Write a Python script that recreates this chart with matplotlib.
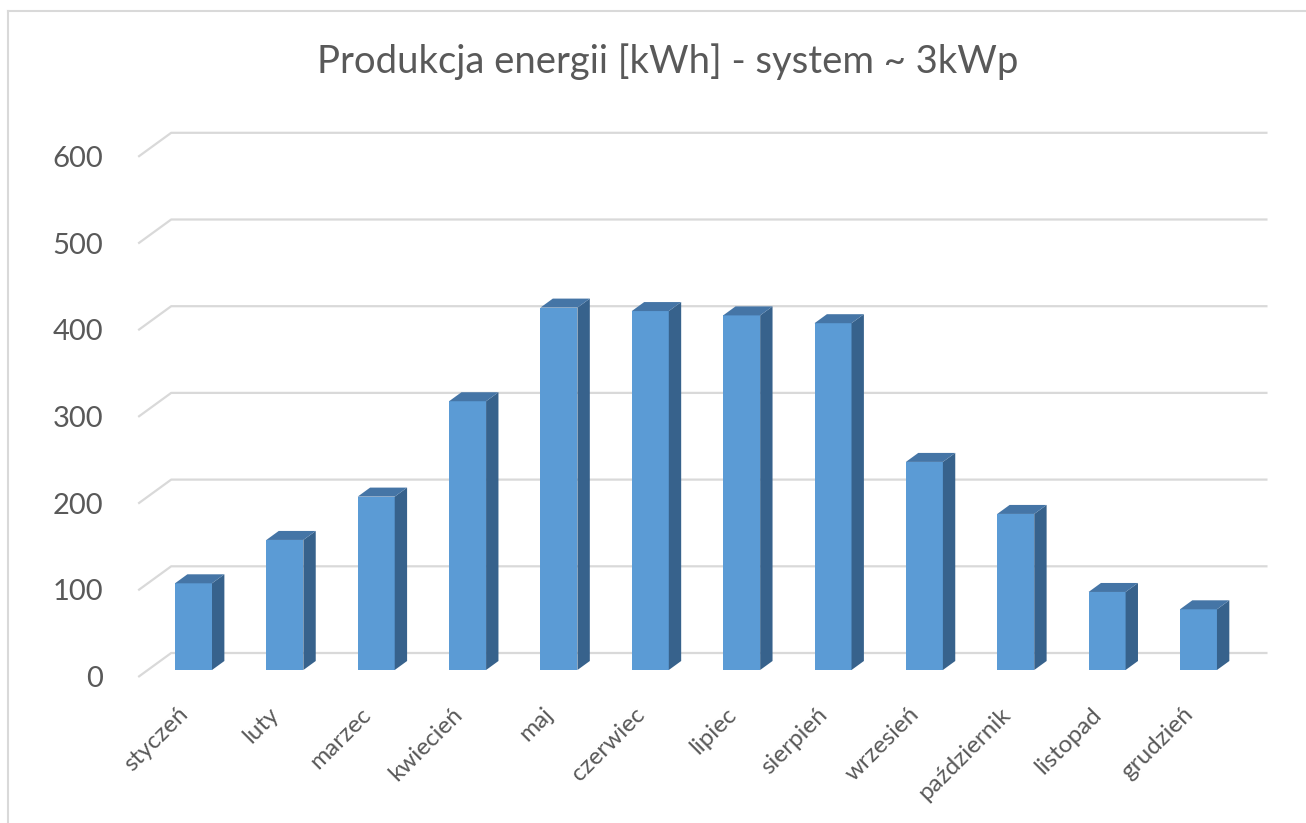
import matplotlib
matplotlib.use('Agg')
import matplotlib.pyplot as plt
from matplotlib.patches import Polygon
from matplotlib.lines import Line2D

plt.rcParams['font.family'] = ['Lato', 'DejaVu Sans']

# data
months = ['styczeń', 'luty', 'marzec', 'kwiecień', 'maj', 'czerwiec',
          'lipiec', 'sierpień', 'wrzesień', 'październik', 'listopad', 'grudzień']
energy_kwh = [100, 150, 200, 310, 418, 414, 409, 400, 240, 180, 90, 70]
y_ticks = [0, 100, 200, 300, 400, 500, 600]
title = 'Produkcja energii [kWh] - system ~ 3kWp'

# colours (Excel 2013 style)
front_col = '#5B9BD5'
top_col = '#4575A6'
side_col = '#37628C'
grid_col = '#D9D9D9'
text_col = '#595959'

# layout in pixels
W_PX, H_PX = 1306, 823
X0, PX_CAT = 193.5, 91.36      # pixel of category 0 centre, px per category
Y0, PX_VAL = 670.0, 0.867      # pixel of value 0 (bar front), px per kWh
L, R, T, B = 130, 1280, 120, 690

fig = plt.figure(figsize=(W_PX / 100, H_PX / 100), dpi=100)
ax = fig.add_axes([L / W_PX, 1 - B / H_PX, (R - L) / W_PX, (B - T) / H_PX])
ax.set_xlim((L - X0) / PX_CAT, (R - X0) / PX_CAT)
ax.set_ylim((Y0 - B) / PX_VAL, (Y0 - T) / PX_VAL)
ax.axis('off')

# fake 3D depth: full wall depth shifts (+33px, -24px)
DX = 33 / PX_CAT
DY = 24 / PX_VAL
d_wall_front = -7 / 24
d_wall_back = 17 / 24
d_bar = 9 / 24
bar_w = 0.405
n = len(months)

# back-wall / side-wall gridlines
for v in y_ticks:
    xs = [-0.5 + d_wall_front * DX, -0.5 + d_wall_back * DX, n - 0.5 + d_wall_back * DX]
    ys = [v + d_wall_front * DY, v + d_wall_back * DY, v + d_wall_back * DY]
    ax.plot(xs, ys, color=grid_col, lw=1.6, zorder=1, solid_capstyle='butt')
    ax.text(-0.5 + d_wall_front * DX - 35 / PX_CAT, v + d_wall_front * DY - 2 / PX_VAL,
            str(v), ha='right', va='center', fontsize=21, color=text_col)

# bars: front faces via ax.bar, side and top faces as polygons
xpos = list(range(n))
ax.bar(xpos, energy_kwh, width=bar_w, color=front_col, zorder=3)
bdx, bdy = d_bar * DX, d_bar * DY
for x, v in zip(xpos, energy_kwh):
    xr, xl = x + bar_w / 2, x - bar_w / 2
    side = Polygon([(xr, 0), (xr + bdx, bdy), (xr + bdx, v + bdy), (xr, v)],
                   closed=True, facecolor=side_col, edgecolor='none', zorder=3)
    top = Polygon([(xl, v), (xr, v), (xr + bdx, v + bdy), (xl + bdx, v + bdy)],
                  closed=True, facecolor=top_col, edgecolor='none', zorder=3)
    ax.add_patch(side)
    ax.add_patch(top)

# rotated category labels
for x, m in zip(xpos, months):
    ax.text(x - 9 / PX_CAT, (Y0 - 711) / PX_VAL, m, rotation=45, rotation_mode='anchor',
            ha='right', va='center', fontsize=17.5, color=text_col, clip_on=False)

# title
fig.text(668 / W_PX, 1 - 62 / H_PX, title, ha='center', va='center',
         fontsize=27.5, color=text_col)

# chart frame (left and top edges visible)
fig.add_artist(Line2D([8 / W_PX, 8 / W_PX], [0, 1 - 11 / H_PX], color=grid_col, lw=1.5))
fig.add_artist(Line2D([8 / W_PX, 1], [1 - 11 / H_PX, 1 - 11 / H_PX], color=grid_col, lw=1.5))

fig.savefig('out.png', dpi=100, facecolor='white')
